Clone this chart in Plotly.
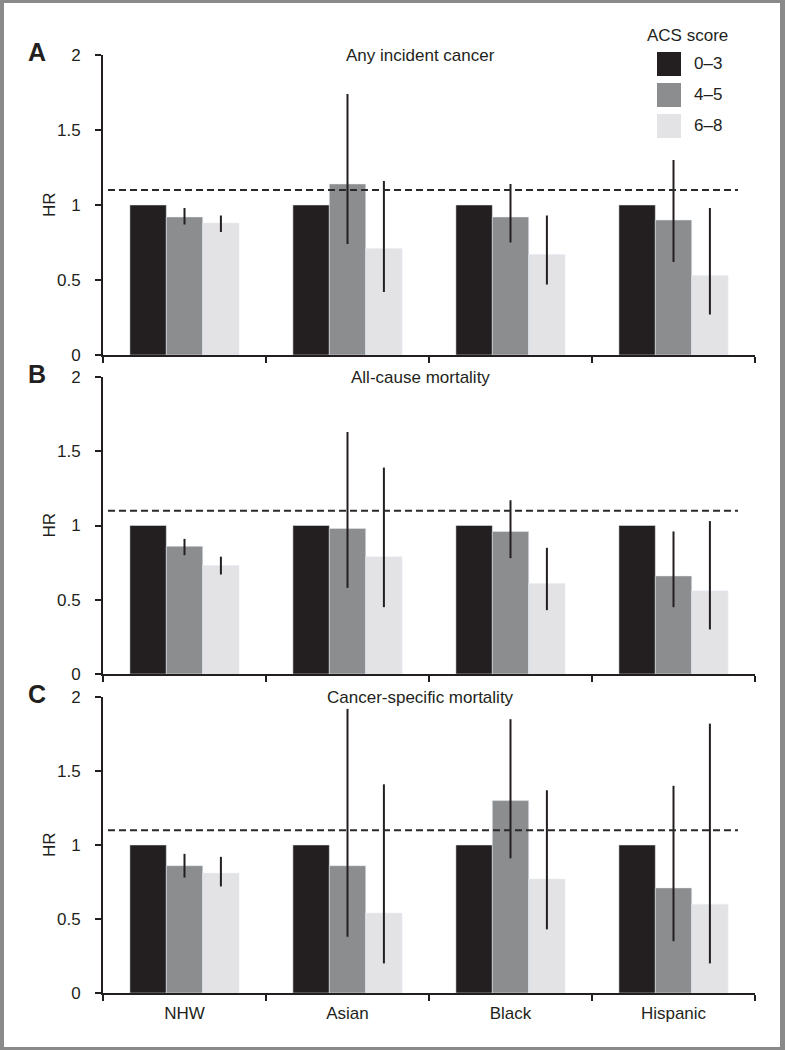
import plotly.graph_objects as go

# groups and ACS score categories
groups = ['NHW', 'Asian', 'Black', 'Hispanic']
scores = ['0–3', '4–5', '6–8']
colors = ['#231f20', '#8c8d8f', '#e3e3e5']
panels = ['A', 'B', 'C']
outcomes = ['Any incident cancer', 'All-cause mortality', 'Cancer-specific mortality']
ref_line = 1.1

# A: any incident cancer
hr_a_03 = [1, 1, 1, 1]
hr_a_45 = [0.92, 1.14, 0.92, 0.90]
lo_a_45 = [0.87, 0.74, 0.75, 0.62]
hi_a_45 = [0.98, 1.74, 1.14, 1.30]
hr_a_68 = [0.88, 0.71, 0.67, 0.53]
lo_a_68 = [0.82, 0.42, 0.47, 0.27]
hi_a_68 = [0.93, 1.16, 0.93, 0.98]

# B: all-cause mortality
hr_b_03 = [1, 1, 1, 1]
hr_b_45 = [0.86, 0.98, 0.96, 0.66]
lo_b_45 = [0.80, 0.58, 0.78, 0.45]
hi_b_45 = [0.91, 1.63, 1.17, 0.96]
hr_b_68 = [0.73, 0.79, 0.61, 0.56]
lo_b_68 = [0.67, 0.45, 0.43, 0.30]
hi_b_68 = [0.79, 1.39, 0.85, 1.03]

# C: cancer-specific mortality
hr_c_03 = [1, 1, 1, 1]
hr_c_45 = [0.86, 0.86, 1.30, 0.71]
lo_c_45 = [0.78, 0.38, 0.91, 0.35]
hi_c_45 = [0.94, 1.92, 1.85, 1.40]
hr_c_68 = [0.81, 0.54, 0.77, 0.60]
lo_c_68 = [0.72, 0.20, 0.43, 0.20]
hi_c_68 = [0.92, 1.41, 1.37, 1.82]

panel_data = [
    (hr_a_03, (hr_a_45, lo_a_45, hi_a_45), (hr_a_68, lo_a_68, hi_a_68)),
    (hr_b_03, (hr_b_45, lo_b_45, hi_b_45), (hr_b_68, lo_b_68, hi_b_68)),
    (hr_c_03, (hr_c_45, lo_c_45, hi_c_45), (hr_c_68, lo_c_68, hi_c_68)),
]

W, H = 785, 1050
L, R, T, B = 103, 30, 55, 57
INK = '#231f20'
FONT = 'Liberation Sans, Arial, Helvetica, sans-serif'


def px_x(x):
    return (x - L) / (W - L - R)


def px_y(y):
    return 1 - (y - T) / (H - T - B)


# pixel extents of each panel (top, bottom)
panel_px = [(55, 355), (377, 674), (697, 993)]

fig = go.Figure()

for i, (hr03, (hr45, lo45, hi45), (hr68, lo68, hi68)) in enumerate(panel_data):
    xa = 'x' if i == 0 else f'x{i + 1}'
    ya = 'y' if i == 0 else f'y{i + 1}'
    fig.add_trace(go.Bar(x=groups, y=hr03, marker_color=colors[0], name=scores[0],
                         xaxis=xa, yaxis=ya, showlegend=False))
    for (hr, lo, hi), col, nm in [((hr45, lo45, hi45), colors[1], scores[1]),
                                  ((hr68, lo68, hi68), colors[2], scores[2])]:
        fig.add_trace(go.Bar(
            x=groups, y=hr, marker_color=col, name=nm,
            xaxis=xa, yaxis=ya, showlegend=False,
            error_y=dict(type='data', symmetric=False,
                         array=[h - v for h, v in zip(hi, hr)],
                         arrayminus=[v - l for v, l in zip(hr, lo)],
                         color=INK, thickness=2, width=0),
        ))

layout = dict(
    width=W, height=H,
    margin=dict(l=L, r=R, t=T, b=B),
    paper_bgcolor='white', plot_bgcolor='white',
    barmode='group', bargap=0.33, bargroupgap=0,
    font=dict(family=FONT, size=17, color=INK),
    showlegend=False,
)

shapes = []
annotations = []
for i, (top, bot) in enumerate(panel_px):
    sfx = '' if i == 0 else str(i + 1)
    layout['xaxis' + sfx] = dict(
        type='category', range=[-0.5, 3.5], domain=[0, 1], anchor='y' + sfx,
        tickson='boundaries', ticks='outside', ticklen=6, tickwidth=1.5, tickcolor=INK,
        showline=True, linewidth=2, linecolor=INK, showgrid=False,
        showticklabels=(i == 2), tickfont=dict(size=17, color=INK),
        ticklabelstandoff=4,
    )
    layout['yaxis' + sfx] = dict(
        range=[0, 2], domain=[max(px_y(bot), 0), min(px_y(top), 1)], anchor='x' + sfx,
        tickvals=[0, 0.5, 1, 1.5, 2], ticktext=['0', '0.5', '1', '1.5', '2'],
        ticks='outside', ticklen=6, tickwidth=1.5, tickcolor=INK,
        showline=True, linewidth=2, linecolor=INK, showgrid=False, zeroline=False,
        tickfont=dict(size=17, color=INK), ticklabelstandoff=11,
    )
    # dashed reference line
    shapes.append(dict(type='line', xref=f'x{sfx} domain', yref='y' + sfx,
                       x0=px_x(108), x1=px_x(738), y0=ref_line, y1=ref_line,
                       line=dict(color='#2a2a2a', width=2, dash='7px,4px'), layer='above'))
    # panel letter, outcome title and HR axis label
    annotations.append(dict(text=f'<b>{panels[i]}</b>', xref='paper', yref='paper',
                            x=px_x(37), y=px_y(top - 3), xanchor='center', yanchor='middle',
                            showarrow=False, font=dict(size=25, color=INK)))
    annotations.append(dict(text=outcomes[i], xref='paper', yref='paper',
                            x=px_x(420), y=px_y(top), xanchor='center', yanchor='middle',
                            showarrow=False, font=dict(size=17, color=INK)))
    annotations.append(dict(text='HR', xref='paper', yref='paper', textangle=-90,
                            x=px_x(49), y=px_y((top + bot) / 2), xanchor='center',
                            yanchor='middle', showarrow=False, font=dict(size=17, color=INK)))

# legend drawn by hand for larger swatches
annotations.append(dict(text='ACS score', xref='paper', yref='paper',
                        x=px_x(687), y=px_y(36), xanchor='center', yanchor='middle',
                        showarrow=False, font=dict(size=17, color=INK)))
for k, (lab, col) in enumerate(zip(scores, colors)):
    y0 = 52 + 31 * k
    shapes.append(dict(type='rect', xref='paper', yref='paper',
                       x0=px_x(657), x1=px_x(681), y0=px_y(y0), y1=px_y(y0 + 24),
                       fillcolor=col, line=dict(width=0)))
    annotations.append(dict(text=lab, xref='paper', yref='paper',
                            x=px_x(692), y=px_y(y0 + 12), xanchor='left', yanchor='middle',
                            showarrow=False, font=dict(size=17, color=INK)))

# grey frame around the figure
frame = '#8a8a8a'
for x0, x1, y0, y1 in [(0, 4, 0, H), (W - 5, W, 0, H), (0, W, 0, 3), (0, W, H - 3, H)]:
    shapes.append(dict(type='rect', xref='paper', yref='paper',
                       x0=px_x(x0), x1=px_x(x1), y0=px_y(y0), y1=px_y(y1),
                       fillcolor=frame, line=dict(width=0)))

layout['shapes'] = shapes
layout['annotations'] = annotations
fig.update_layout(**layout)

# drop the browser's default body margin so the figure sits at the page origin
fig.write_html('out.html', config={'displayModeBar': False},
               post_script="document.body.style.margin='0';")
